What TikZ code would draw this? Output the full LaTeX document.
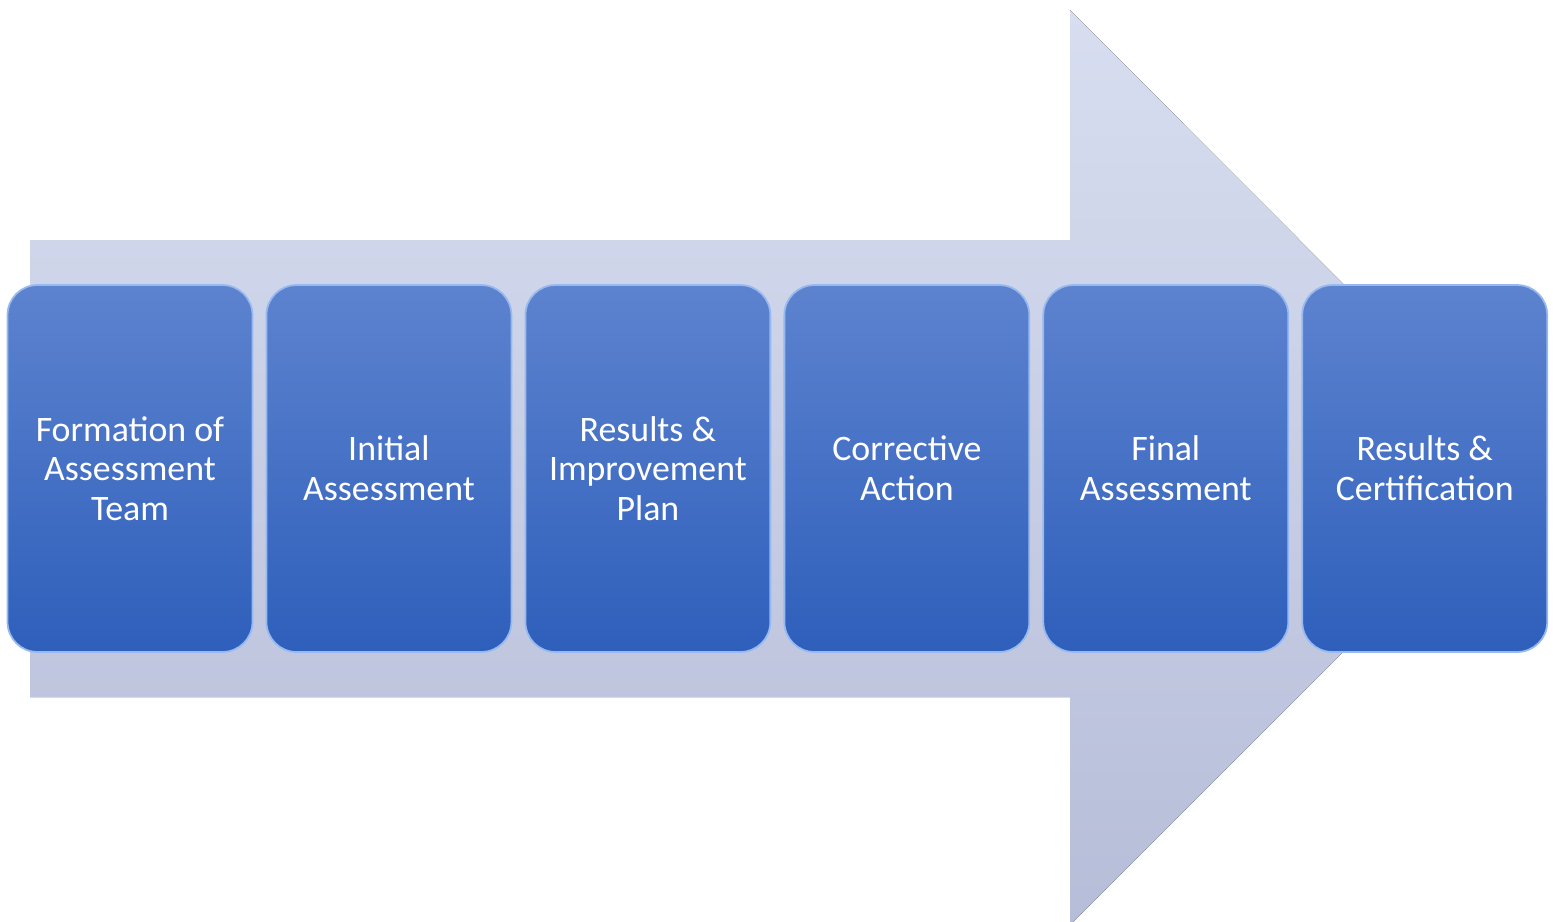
\documentclass[tikz,border=0pt]{standalone}
\usepackage{fontspec}
\setmainfont{Carlito}
\usetikzlibrary{positioning}
\definecolor{arrowtop}{RGB}{216, 222, 240}
\definecolor{arrowbot}{RGB}{182, 189, 216}
\definecolor{boxtop}{RGB}{93, 131, 207}
\definecolor{boxbot}{RGB}{46, 95, 187}
\definecolor{boxedge}{RGB}{150, 185, 240}

\tikzset{
    stagebox/.style={rounded corners=0.6cm, top color=boxtop, bottom color=boxbot,
                     draw=boxedge, line width=1pt, text=white, align=center,
                     minimum width=4.9cm, minimum height=7.34cm, inner sep=0pt, outer sep=0pt,
                     font=\fontsize{20.4}{22.6}\selectfont}
}

\begin{document}
\begin{tikzpicture}[x=0.02cm, y=-0.02cm]
            % Frame to fix the page size
            \useasboundingbox (0,0) rectangle (1553,921);
            \clip (0,0) rectangle (1553,921);
            % Big arrow behind the stages
            \fill[top color=arrowtop, bottom color=arrowbot]
                 (30,240) -- (1070,240) -- (1070,10) -- (1527,468) -- (1070,925) -- (1070,697) -- (30,697) -- cycle;
            % Stages
            \node[stagebox] (formation) at (130,468.5) {Formation of\\Assessment\\Team};
            \node[stagebox, right=0.28cm of formation] (initial)    {Initial\\Assessment};
            \node[stagebox, right=0.28cm of initial]   (improve)    {Results \&\\Improvement\\Plan};
            \node[stagebox, right=0.28cm of improve]   (corrective) {Corrective\\Action};
            \node[stagebox, right=0.28cm of corrective] (final)     {Final\\Assessment};
            \node[stagebox, right=0.28cm of final]     (certify)    {Results \&\\Certification};
\end{tikzpicture}
\end{document}
